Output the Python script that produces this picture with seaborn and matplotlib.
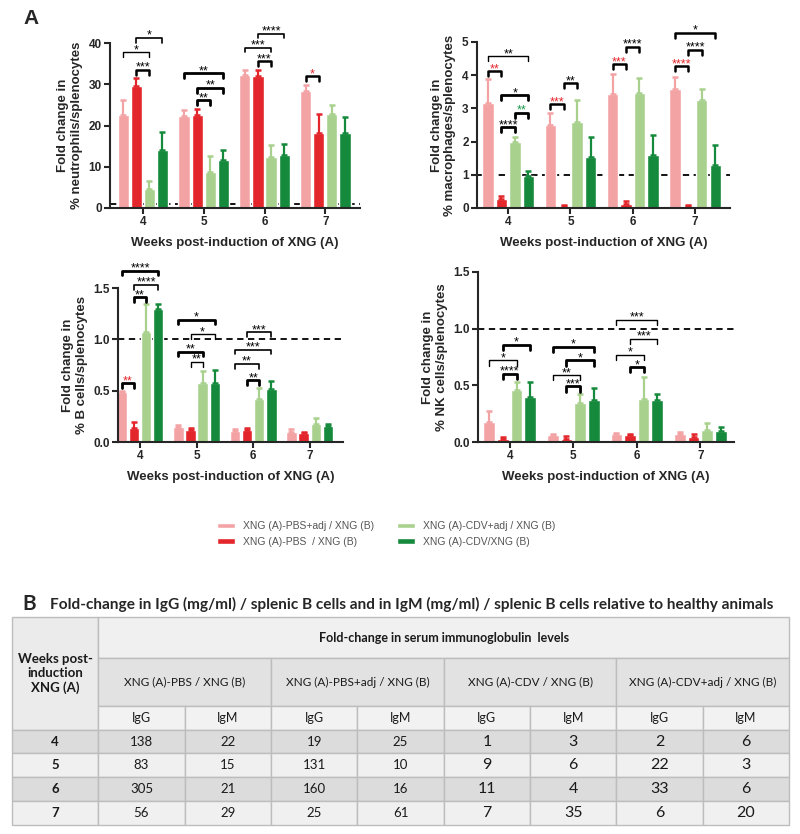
import numpy as np
import pandas as pd
import seaborn as sns
import matplotlib.pyplot as plt
from matplotlib.patches import Rectangle

sns.set_theme(style="ticks")
plt.rcParams["font.family"] = ["Liberation Sans", "DejaVu Sans"]

WEEKS = ["4", "5", "6", "7"]
GROUPS = [
    "XNG (A)-PBS+adj / XNG (B)",
    "XNG (A)-PBS  / XNG (B)",
    "XNG (A)-CDV+adj / XNG (B)",
    "XNG (A)-CDV/XNG (B)",
]
COLORS = ["#F4A3A5", "#E3262B", "#A9D18E", "#168A3C"]
PALETTE = dict(zip(GROUPS, COLORS))
RED = "#E3262B"
GREEN = "#1B9A4A"
K = "black"

# bar means per group (rows) and week (cols), plus upper error (sem)
neut_mean = [[22.5, 22.2, 32.2, 28.4], [29.5, 22.6, 31.9, 18.3],
             [4.7, 8.8, 12.4, 22.9], [14.0, 11.6, 12.9, 18.3]]
neut_sem = [[3.6, 1.5, 1.2, 1.5], [1.9, 1.5, 1.5, 4.4],
            [1.8, 3.7, 2.8, 2.0], [4.4, 2.5, 2.5, 3.8]]

macro_mean = [[3.15, 2.49, 3.43, 3.57], [0.28, 0.05, 0.13, 0.05],
              [2.0, 2.58, 3.47, 3.25], [0.95, 1.55, 1.61, 1.31]]
macro_sem = [[0.75, 0.38, 0.62, 0.38], [0.07, 0.03, 0.07, 0.05],
             [0.13, 0.67, 0.44, 0.34], [0.16, 0.58, 0.58, 0.59]]

bcell_mean = [[0.49, 0.15, 0.11, 0.10], [0.14, 0.12, 0.12, 0.085],
              [1.07, 0.57, 0.42, 0.18], [1.30, 0.57, 0.52, 0.16]]
bcell_sem = [[0.01, 0.015, 0.015, 0.03], [0.05, 0.02, 0.015, 0.008],
             [0.27, 0.12, 0.11, 0.05], [0.04, 0.13, 0.07, 0.02]]

nk_mean = [[0.18, 0.06, 0.07, 0.07], [0.03, 0.03, 0.06, 0.04],
           [0.46, 0.34, 0.38, 0.11], [0.40, 0.375, 0.375, 0.10]]
nk_sem = [[0.09, 0.015, 0.01, 0.015], [0.012, 0.02, 0.015, 0.03],
          [0.07, 0.08, 0.19, 0.06], [0.13, 0.10, 0.05, 0.03]]

# significance brackets: (week, bar a, bar b, height, stars, colour, linewidth)
neut_brackets = [
    (0, 1, 3, 41.3, "*", K, 1.2), (0, 0, 2, 37.7, "*", K, 1.0),
    (0, 1, 2, 33.5, "***", K, 1.8), (1, 0, 3, 32.7, "**", K, 2.0),
    (1, 1, 3, 29.2, "**", K, 2.0), (1, 1, 2, 26.1, "**", K, 2.0),
    (2, 1, 3, 42.3, "****", K, 1.2), (2, 0, 2, 38.9, "***", K, 1.2),
    (2, 1, 2, 35.6, "***", K, 1.8), (3, 0, 1, 31.9, "*", RED, 1.8),
]
macro_brackets = [
    (0, 0, 3, 4.57, "**", K, 1.0), (0, 0, 1, 4.12, "**", RED, 1.8),
    (0, 1, 3, 3.40, "*", K, 2.0), (0, 2, 3, 2.87, "**", GREEN, 2.0),
    (0, 1, 2, 2.43, "****", K, 2.0), (1, 0, 1, 3.13, "***", RED, 1.8),
    (1, 1, 2, 3.75, "**", K, 1.8), (2, 0, 1, 4.33, "***", RED, 1.8),
    (2, 1, 2, 4.85, "****", K, 1.8), (3, 0, 1, 4.27, "****", RED, 1.8),
    (3, 1, 2, 4.77, "****", K, 1.8), (3, 0, 3, 5.28, "*", K, 1.8),
]
bcell_brackets = [
    (0, 0, 3, 1.67, "****", K, 2.0), (0, 1, 3, 1.53, "****", K, 1.2),
    (0, 1, 2, 1.41, "**", K, 2.0), (0, 0, 1, 0.57, "**", RED, 2.0),
    (1, 0, 3, 1.19, "*", K, 2.0), (1, 1, 3, 1.05, "*", K, 1.0),
    (1, 0, 2, 0.88, "**", K, 2.0), (1, 1, 2, 0.78, "**", K, 1.0),
    (2, 1, 3, 1.07, "***", K, 1.2), (2, 0, 3, 0.90, "***", K, 1.2),
    (2, 0, 2, 0.76, "**", K, 1.2), (2, 1, 2, 0.60, "**", K, 2.0),
]
nk_brackets = [
    (0, 1, 3, 0.86, "*", K, 2.0), (0, 0, 2, 0.72, "*", K, 1.0),
    (0, 1, 2, 0.60, "****", K, 2.0), (1, 0, 3, 0.84, "*", K, 2.0),
    (1, 1, 3, 0.72, "*", K, 2.0), (1, 0, 2, 0.59, "**", K, 1.0),
    (1, 1, 2, 0.49, "***", K, 2.0), (2, 0, 3, 1.08, "***", K, 1.0),
    (2, 1, 3, 0.91, "***", K, 1.0), (2, 0, 2, 0.77, "*", K, 1.0),
    (2, 1, 2, 0.66, "*", K, 2.0),
]

# table B
TABLE_GROUPS = ["XNG (A)-PBS / XNG (B)", "XNG (A)-PBS+adj / XNG (B)",
                "XNG (A)-CDV / XNG (B)", "XNG (A)-CDV+adj / XNG (B)"]
igg_pbs = [138, 83, 305, 56]
igm_pbs = [22, 15, 21, 29]
igg_pbs_adj = [19, 131, 160, 25]
igm_pbs_adj = [25, 10, 16, 61]
igg_cdv = [1, 9, 11, 7]
igm_cdv = [3, 6, 4, 35]
igg_cdv_adj = [2, 22, 33, 6]
igm_cdv_adj = [6, 3, 6, 20]


def draw_panel(ax, mean, sem, ymax, yticks, ylabel, brackets, xlim, ytickfmt):
    df = pd.DataFrame({
        "week": np.tile(WEEKS, len(GROUPS)),
        "group": np.repeat(GROUPS, len(WEEKS)),
        "value": np.concatenate(mean),
    })
    sns.barplot(data=df, x="week", y="value", hue="group", hue_order=GROUPS,
                palette=PALETTE, saturation=1, width=0.86, gap=0.15,
                errorbar=None, ax=ax, zorder=2)
    centers = []
    for cont, m, s, c in zip(list(ax.containers), mean, sem, COLORS):
        xs = [p.get_x() + p.get_width() / 2 for p in cont]
        ax.errorbar(xs, m, yerr=[np.zeros(len(s)), s], fmt="none", ecolor=c,
                    elinewidth=1.6, capsize=2.2, capthick=1.8, zorder=2)
        centers.append(xs)
    ax.axhline(1, color="black", lw=1.3, ls=(0, (3.5, 2.5)), zorder=1)
    drop = 0.03 * ymax
    for wk, a, b, y, txt, col, lw in brackets:
        x1, x2 = centers[a][wk], centers[b][wk]
        ax.plot([x1, x1, x2, x2], [y - drop, y, y, y - drop], color="black",
                lw=lw, clip_on=False, zorder=3)
        ax.annotate(txt, xy=((x1 + x2) / 2, y), xytext=(0, 1.5),
                    textcoords="offset points", ha="center", va="center",
                    fontsize=9, color=col, annotation_clip=False)
    ax.set_ylim(0, ymax)
    ax.set_xlim(*xlim)
    ax.set_yticks(yticks)
    ax.set_yticklabels([ytickfmt.format(t) for t in yticks])
    ax.set_xlabel("Weeks post-induction of XNG (A)", fontsize=9.5,
                  fontweight="bold", labelpad=6)
    ax.set_ylabel(ylabel, fontsize=9.5, fontweight="bold", labelpad=4)
    sns.despine(ax=ax)
    for sp in ["left", "bottom"]:
        ax.spines[sp].set_linewidth(1.5)
    ax.tick_params(width=1.5, length=4, labelsize=8.5, pad=2)
    for lab in ax.get_xticklabels() + ax.get_yticklabels():
        lab.set_fontweight("bold")
    ax.get_legend().remove()


fig = plt.figure(figsize=(8, 8.34), dpi=100)
W, H = 800, 834


def px_axes(left, top, right, bottom):
    return fig.add_axes([left / W, 1 - bottom / H, (right - left) / W, (bottom - top) / H])


ax1 = px_axes(110, 43, 360, 208)
ax2 = px_axes(477, 42, 730, 208)
ax3 = px_axes(118, 288, 343, 442)
ax4 = px_axes(478, 272, 734, 442)

draw_panel(ax1, neut_mean, neut_sem, 40, [0, 10, 20, 30, 40],
           "Fold change in\n% neutrophils/splenocytes", neut_brackets,
           (-0.54, 3.57), "{:.0f}")
handles, labels = ax1.get_legend_handles_labels()
draw_panel(ax2, macro_mean, macro_sem, 5, [0, 1, 2, 3, 4, 5],
           "Fold change in\n% macrophages/splenocytes", macro_brackets,
           (-0.5, 3.56), "{:.0f}")
draw_panel(ax3, bcell_mean, bcell_sem, 1.5, [0, 0.5, 1.0, 1.5],
           "Fold change in\n% B cells/splenocytes", bcell_brackets,
           (-0.39, 3.59), "{:.1f}")
draw_panel(ax4, nk_mean, nk_sem, 1.5, [0, 0.5, 1.0, 1.5],
           "Fold change in\n% NK cells/splenocytes", nk_brackets,
           (-0.5, 3.53), "{:.1f}")

fig.text(23 / W, 1 - 19 / H, "A", fontsize=15, fontweight="bold", va="center")

fig.legend(handles, labels, ncol=2, loc="center left",
           bbox_to_anchor=(212 / W, 1 - 534 / H), frameon=False, fontsize=7.5,
           labelcolor="#555555", handlelength=1.7, handleheight=0.45,
           handletextpad=0.8, columnspacing=2.2, labelspacing=0.55,
           borderpad=0)

# ---- table B ----
TFONT = ["Lato", "DejaVu Sans"]
fig.text(22 / W, 1 - 604 / H, "B", fontsize=15, fontweight="bold", va="center",
         family=TFONT)
fig.text(50 / W, 1 - 604 / H,
         "Fold-change in IgG (mg/ml) / splenic B cells and in IgM (mg/ml) / "
         "splenic B cells relative to healthy animals",
         fontsize=11.1, fontweight="bold", va="center", family=TFONT)

row_h = [41, 48, 24, 23, 24, 24, 24]
row_top = np.concatenate([[0], np.cumsum(row_h)])
tab = px_axes(12, 617, 789, 617 + row_top[-1])
tab.set_xlim(0, 9)
tab.set_ylim(row_top[-1], 0)
tab.axis("off")
LINE = "#bdbdbd"


def cell(c0, c1, r0, r1, face, text="", weight="normal", size=8.5):
    tab.add_patch(Rectangle((c0, row_top[r0]), c1 - c0, row_top[r1] - row_top[r0],
                            facecolor=face, edgecolor=LINE, lw=1, clip_on=False))
    if text:
        tab.text((c0 + c1) / 2, (row_top[r0] + row_top[r1]) / 2, text,
                 ha="center", va="center", fontsize=size, fontweight=weight,
                 family=TFONT, color="#1a1a1a", linespacing=1.25)


cell(0, 1, 0, 3, "#ebebeb", "Weeks post-\ninduction\nXNG (A)", "bold", 9.5)
cell(1, 9, 0, 1, "#f0f0f0", "Fold-change in serum immunoglobulin  levels",
     "bold", 9)
for g, name in enumerate(TABLE_GROUPS):
    cell(1 + 2 * g, 3 + 2 * g, 1, 2, "#e2e2e2", name, size=8.5)
    cell(1 + 2 * g, 2 + 2 * g, 2, 3, "#f2f2f2", "IgG", size=9)
    cell(2 + 2 * g, 3 + 2 * g, 2, 3, "#f2f2f2", "IgM", size=9)

table_cols = [igg_pbs, igm_pbs, igg_pbs_adj, igm_pbs_adj,
              igg_cdv, igm_cdv, igg_cdv_adj, igm_cdv_adj]
for r, wk in enumerate(WEEKS):
    face = "#dcdcdc" if r % 2 == 0 else "#f0f0f0"
    cell(0, 1, 3 + r, 4 + r, face, wk, "bold", 9.5)
    for c, col in enumerate(table_cols):
        size = 11.5 if c >= 4 else 9.5
        cell(1 + c, 2 + c, 3 + r, 4 + r, face, str(col[r]), size=size)

fig.savefig("out.png", dpi=100)
